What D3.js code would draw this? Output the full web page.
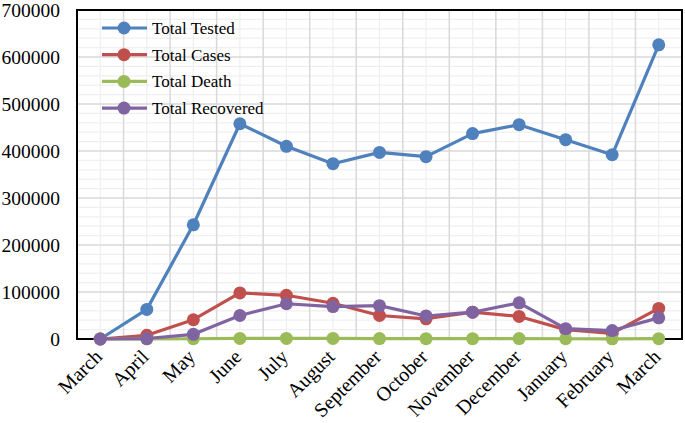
<!DOCTYPE html>
<html>
<head>
<meta charset="utf-8">
<script src="https://cdn.jsdelivr.net/npm/d3@7"></script>
<style>
  body { margin: 0; background: #fff; }
  svg text { font-family: "Liberation Serif", "Times New Roman", serif; fill: #000; }
</style>
</head>
<body>
<script>
var months = ["March", "April", "May", "June", "July", "August", "September",
              "October", "November", "December", "January", "February", "March"];
var totalTested = [0, 63000, 243000, 458000, 410000, 373000, 397000, 388000, 437000, 456000, 424000, 392000, 626000];
var totalCases = [0, 8000, 41000, 98000, 93000, 76000, 50000, 43000, 57000, 48000, 20000, 12000, 65000];
var totalDeath = [5, 160, 480, 1200, 1260, 1170, 970, 670, 720, 915, 570, 280, 640];
var totalRecovered = [0, 1000, 10000, 50000, 75000, 69000, 71000, 49000, 57000, 77000, 22000, 18000, 45000];
var yTicks = [0, 100000, 200000, 300000, 400000, 500000, 600000, 700000];

var seriesNames = ["Total Tested", "Total Cases", "Total Death", "Total Recovered"];
var seriesValues = [totalTested, totalCases, totalDeath, totalRecovered];
var colors = ["#4f81bd", "#c0504d", "#9bbb59", "#8064a2"];

var width = 685, height = 423;
var plotLeft = 77, plotRight = 682, plotTop = 10, plotBottom = 339;

var svg = d3.select("body").append("svg").attr("width", width).attr("height", height);

var keys = months.map(function (m, i) { return i; });
var x = d3.scaleBand().domain(keys).range([plotLeft, plotRight]).padding(0);
var y = d3.scaleLinear().domain([0, 700000]).range([plotBottom, plotTop]);

// minor horizontal grid
svg.append("g").selectAll("line")
  .data(d3.range(0, 700001, 20000).filter(function (d) { return d % 100000 !== 0; }))
  .enter().append("line")
  .attr("x1", plotLeft).attr("x2", plotRight)
  .attr("y1", function (d) { return y(d); }).attr("y2", function (d) { return y(d); })
  .attr("stroke", "#efefef").attr("stroke-width", 1.2);

// minor vertical grid (category centers)
svg.append("g").selectAll("line")
  .data(keys).enter().append("line")
  .attr("x1", function (d) { return x(d) + x.bandwidth() / 2; })
  .attr("x2", function (d) { return x(d) + x.bandwidth() / 2; })
  .attr("y1", plotTop).attr("y2", plotBottom)
  .attr("stroke", "#efefef").attr("stroke-width", 1.2);

// major grid
svg.append("g").selectAll("line")
  .data(yTicks).enter().append("line")
  .attr("x1", plotLeft).attr("x2", plotRight)
  .attr("y1", function (d) { return y(d); }).attr("y2", function (d) { return y(d); })
  .attr("stroke", "#d9d9d9").attr("stroke-width", 1.5);

svg.append("g").selectAll("line")
  .data(keys.slice(1)).enter().append("line")
  .attr("x1", function (d) { return x(d); }).attr("x2", function (d) { return x(d); })
  .attr("y1", plotTop).attr("y2", plotBottom)
  .attr("stroke", "#d9d9d9").attr("stroke-width", 1.5);

// y axis labels
var yAxis = d3.axisLeft(y).tickValues(yTicks).tickSize(0).tickPadding(17).tickFormat(d3.format("d"));
svg.append("g").attr("transform", "translate(" + plotLeft + ",0)").call(yAxis)
  .call(function (g) { g.select(".domain").remove(); })
  .selectAll("text").style("font-size", "19.5px").style("font-family", "Liberation Serif, serif");

// x axis labels
var xAxis = d3.axisBottom(x).tickSize(0).tickFormat(function (d) { return months[d]; });
svg.append("g").attr("transform", "translate(0," + plotBottom + ")").call(xAxis)
  .call(function (g) { g.select(".domain").remove(); })
  .selectAll("text")
  .style("font-size", "20px").style("font-family", "Liberation Serif, serif")
  .attr("text-anchor", "end")
  .attr("dy", null)
  .attr("y", 0)
  .attr("transform", "translate(3,19) rotate(-45)");

// border
svg.append("rect")
  .attr("x", plotLeft).attr("y", plotTop).attr("width", plotRight - plotLeft).attr("height", plotBottom - plotTop)
  .attr("fill", "none").attr("stroke", "#000").attr("stroke-width", 2);

var line = d3.line()
  .x(function (d, i) { return x(i) + x.bandwidth() / 2; })
  .y(function (d) { return y(d); });

seriesValues.forEach(function (vals, s) {
  var g = svg.append("g");
  g.append("path").datum(vals)
    .attr("d", line).attr("fill", "none")
    .attr("stroke", colors[s]).attr("stroke-width", 3.2)
    .attr("stroke-linejoin", "round");
  g.selectAll("circle").data(vals).enter().append("circle")
    .attr("cx", function (d, i) { return x(i) + x.bandwidth() / 2; })
    .attr("cy", function (d) { return y(d); })
    .attr("r", 6.5).attr("fill", colors[s]);
});

// legend
var legend = svg.append("g").selectAll("g")
  .data(seriesNames).enter().append("g")
  .attr("transform", function (d, i) { return "translate(102," + (28 + i * 26.7) + ")"; });
legend.append("line").attr("x1", 0).attr("x2", 45).attr("y1", 0).attr("y2", 0)
  .attr("stroke", function (d, i) { return colors[i]; }).attr("stroke-width", 3.2);
legend.append("circle").attr("cx", 22).attr("cy", 0).attr("r", 6.5)
  .attr("fill", function (d, i) { return colors[i]; });
legend.append("text").attr("x", 50).attr("y", 0).attr("dy", "0.35em")
  .style("font-size", "17px").text(function (d) { return d; });
</script>
</body>
</html>
